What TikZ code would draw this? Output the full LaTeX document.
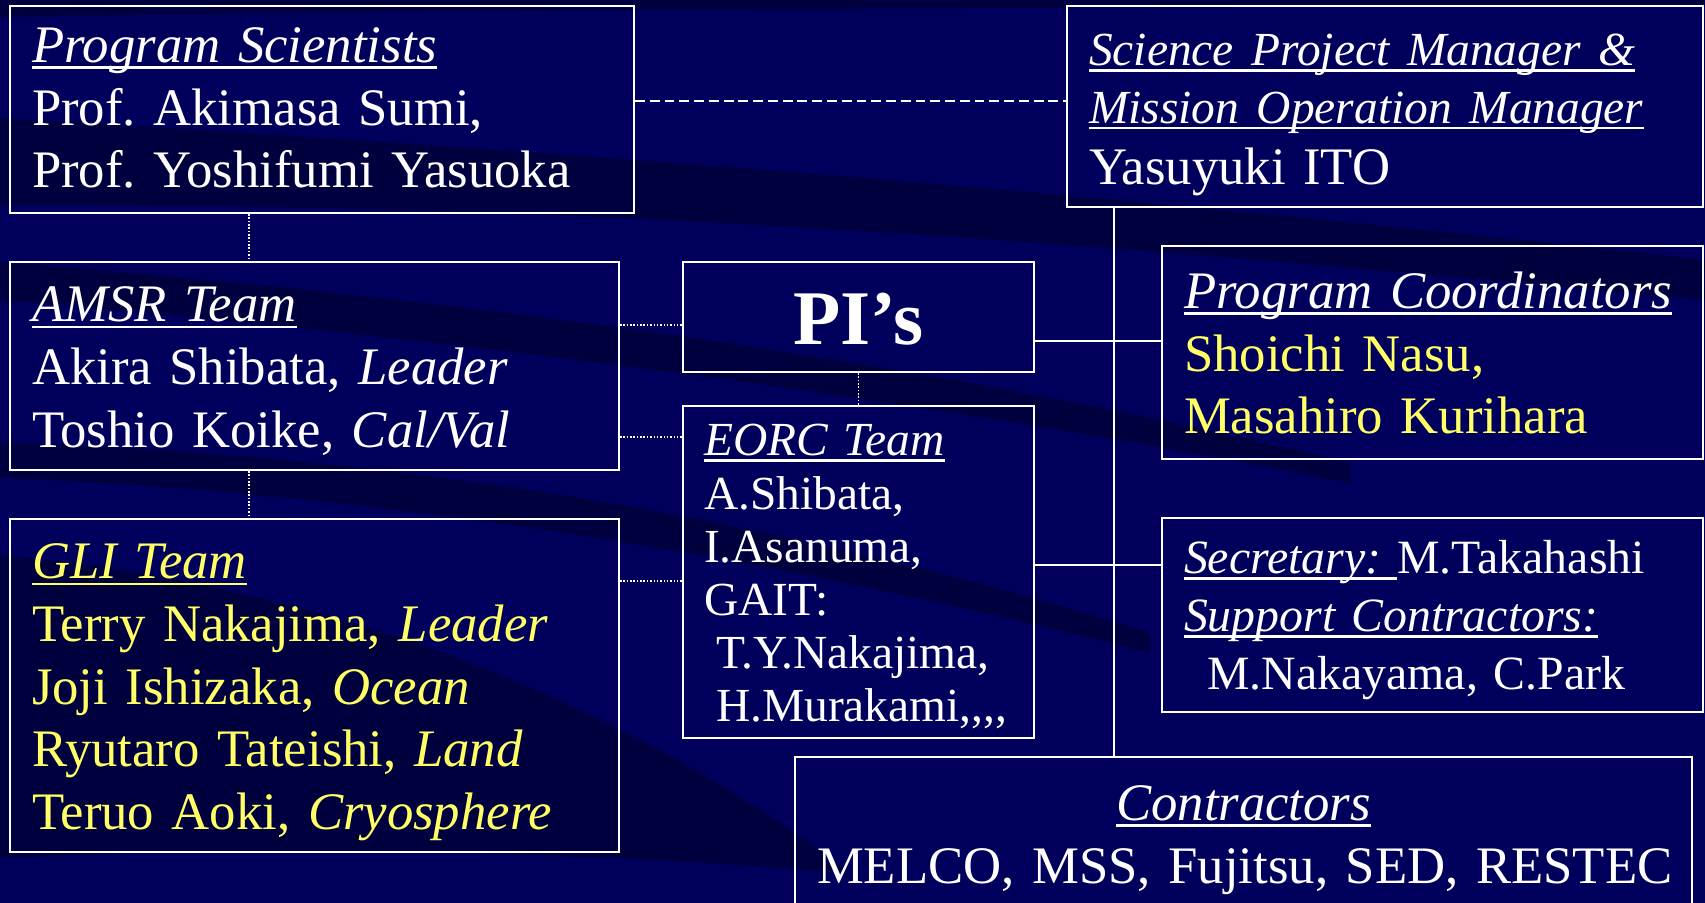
\documentclass[tikz,border=0pt]{standalone}
\usepackage{fontspec}
\setmainfont{Liberation Serif}
\frenchspacing
\usetikzlibrary{positioning,calc}
\definecolor{navybg}{HTML}{00005C}
\definecolor{navyband}{HTML}{00003E}
\definecolor{namegold}{HTML}{FFFF66}
\newcommand{\ulin}[1]{\leavevmode\setbox0\hbox{#1}\rlap{\rule[-0.12em]{\wd0}{0.05em}}\box0}

\begin{document}
\begin{tikzpicture}[
  orgbox/.style={draw=white, line width=0.6pt, anchor=north west, inner xsep=0.22cm, inner ysep=0pt,
    align=left, text=white, font=\fontsize{15}{17.8}\selectfont,
    execute at begin node={\rule{0pt}{1em}}, execute at end node={\rule[-0.3em]{0pt}{0pt}}},
  solidlink/.style={draw=white, line width=0.6pt},
  dotlink/.style={draw=white, line width=0.45pt, dash pattern=on 0.45pt off 0.5pt},
  dashlink/.style={draw=white, line width=0.6pt, dash pattern=on 2.8pt off 1.4pt}
]
% background with swooshes
\useasboundingbox (0,0) rectangle (17.05,9.03);
\clip (0,0) rectangle (17.05,9.03);
\fill[navybg] (0,0) rectangle (17.05,9.03);
\fill[navyband] (0,9.03) -- (17.05,9.03) -- (17.05,8.97) .. controls (8,8.95) and (3,8.92) .. (0,8.86) -- cycle;
\fill[navyband] (0,7.85) .. controls (6,7.5) and (11,7.1) .. (17.05,6.43) -- (17.05,6.03) .. controls (11,6.6) and (6,7.0) .. (0,6.98) -- cycle;
\fill[navyband] (0,6.41) .. controls (4,6.1) and (9,5.5) .. (13.5,4.4) -- (13.5,4.2) .. controls (9,5.1) and (4,5.7) .. (0,6.03) -- cycle;
\fill[navyband] (0,4.6) .. controls (4,4.5) and (8,3.8) .. (11.5,2.7) -- (11.5,2.5) .. controls (8,3.4) and (4,4.1) .. (0,4.25) -- cycle;
\fill[navyband] (0,3.48) .. controls (3,3.2) and (6,2.2) .. (8.5,0.3) .. controls (6,0.5) and (3,0.6) .. (0,0.45) -- cycle;

% boxes
\node[orgbox, minimum width=6.24cm, text width=5.80cm, minimum height=2.07cm] (ps) at (0.09,8.98)
  {\ulin{\textit{Program Scientists}}\\Prof. Akimasa Sumi,\\Prof. Yoshifumi Yasuoka\rule[-0.4em]{0pt}{0pt}};
\node[orgbox, minimum width=6.36cm, text width=5.92cm, minimum height=2.01cm] (spm) at (10.66,8.98)
  {{\fontsize{13.5}{17.8}\selectfont\ulin{\textit{Science Project Manager \&}}}\\[-1.5pt]
   {\fontsize{13.5}{17.8}\selectfont\ulin{\textit{Mission Operation Manager}}}\\[-0.5pt]Yasuyuki ITO};
\node[orgbox, minimum width=6.09cm, text width=5.65cm, minimum height=2.08cm] (amsr) at (0.09,6.42)
  {\ulin{\textit{AMSR Team}}\\Akira Shibata, \textit{Leader}\\Toshio Koike, \textit{Cal/Val}};
\node[orgbox, minimum width=3.51cm, text width=3.07cm, minimum height=1.10cm, align=center,
  font=\fontsize{22}{24}\selectfont\bfseries] (pis) at (6.82,6.42) {PI’s};
\node[orgbox, minimum width=3.51cm, text width=3.09cm, inner xsep=0.21cm, minimum height=3.32cm,
  font=\fontsize{13.5}{15.1}\selectfont] (eorc) at (6.82,4.98)
  {\ulin{\textit{EORC Team}}\\A.Shibata,\\I.Asanuma,\\GAIT:\\\hspace*{3.4pt}T.Y.Nakajima,\\\hspace*{3.4pt}H.Murakami,{},{},{},};
\node[orgbox, minimum width=6.09cm, text width=5.65cm, minimum height=3.33cm, text=namegold] (gli) at (0.09,3.85)
  {\ulin{\textit{GLI Team}}\\Terry Nakajima, \textit{Leader}\\Joji Ishizaka, \textit{Ocean}\\Ryutaro Tateishi, \textit{Land}\\Teruo Aoki, \textit{Cryosphere}};
\node[orgbox, minimum width=5.41cm, text width=4.97cm, minimum height=2.13cm] (pc) at (11.61,6.58)
  {\mbox{\ulin{\textit{Program Coordinators}}}\\\color{namegold}Shoichi Nasu,\\\color{namegold}Masahiro Kurihara};
\node[orgbox, minimum width=5.41cm, text width=4.97cm, minimum height=1.94cm,
  font=\fontsize{13.6}{16.5}\selectfont] (sec) at (11.61,3.86)
  {\ulin{\textit{Secretary: }}M.Takahashi\\\ulin{\textit{Support Contractors:}}\\\hspace*{6.6pt}M.Nakayama, C.Park};
\node[orgbox, minimum width=8.97cm, text width=8.53cm, minimum height=1.53cm, align=center] (con) at (7.94,1.47)
  {\ulin{\textit{Contractors}}\\\mbox{MELCO, MSS, Fujitsu, SED, RESTEC}};

% connectors
\coordinate (trunk) at (11.14,0);
\coordinate (colleft) at (2.49,0);
\coordinate (rowps) at (0,8.02);
\coordinate (rowpc) at (0,5.62);
\coordinate (rowsec) at (0,3.38);
\coordinate (rowpi) at (0,5.78);
\coordinate (roweorc) at (0,4.66);
\coordinate (rowgli) at (0,3.22);
\draw[dashlink] (ps.east |- rowps) -- (spm.west |- rowps);
\draw[solidlink] (spm.south -| trunk) -- (con.north -| trunk);
\draw[solidlink] (pis.east |- rowpc) -- (pc.west |- rowpc);
\draw[solidlink] (eorc.east |- rowsec) -- (sec.west |- rowsec);
\draw[dotlink] (ps.south -| colleft) -- (amsr.north -| colleft);
\draw[dotlink] (amsr.south -| colleft) -- (gli.north -| colleft);
\draw[dotlink] (pis.south) -- (eorc.north);
\draw[dotlink] (amsr.east |- rowpi) -- (pis.west |- rowpi);
\draw[dotlink] (amsr.east |- roweorc) -- (eorc.west |- roweorc);
\draw[dotlink] (gli.east |- rowgli) -- (eorc.west |- rowgli);
\end{tikzpicture}
\end{document}
